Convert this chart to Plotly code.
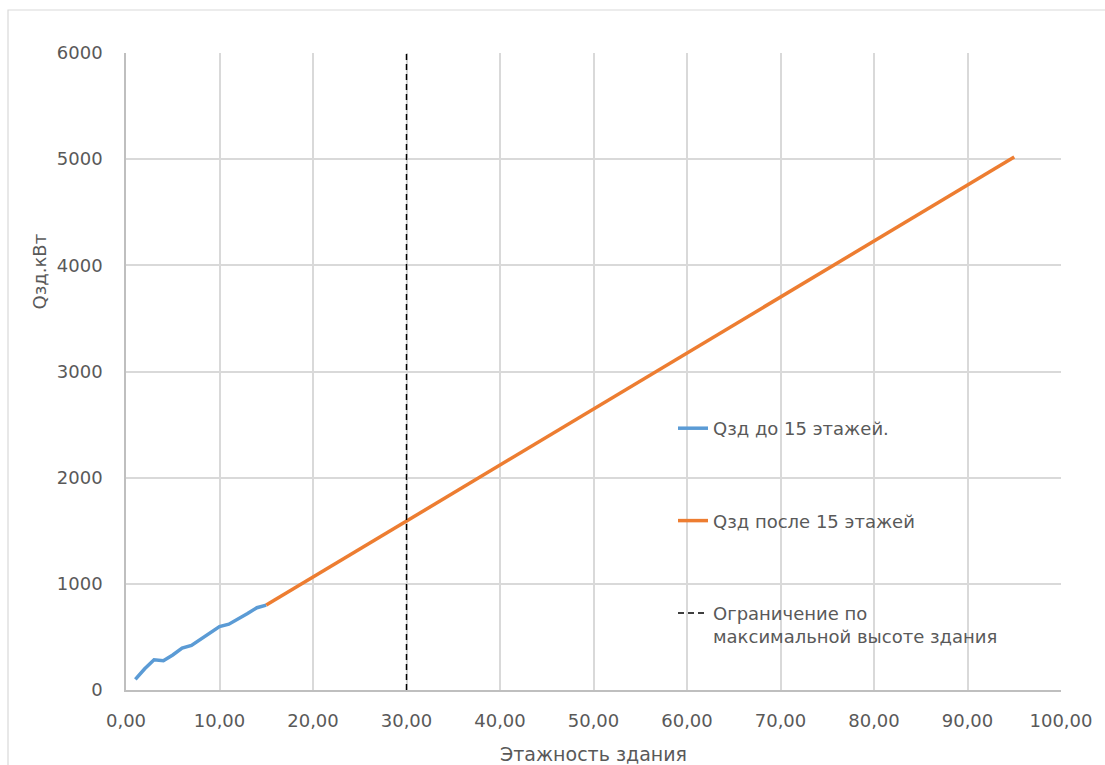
import plotly.graph_objects as go

# Heat load of the building vs. number of storeys
floors_low = [1, 2, 3, 4, 5, 6, 7, 8, 9, 10, 11, 12, 13, 14, 15]
q_low = [100, 200, 285, 275, 330, 395, 420, 480, 540, 598, 620, 668, 720, 775, 800]

floors_high = [15, 95]
q_high = [800, 5020]

limit_floor = [30, 30]
limit_q = [0, 6000]

x_ticks = [0, 10, 20, 30, 40, 50, 60, 70, 80, 90, 100]
y_ticks = [0, 1000, 2000, 3000, 4000, 5000, 6000]

names = [
    "Qзд до 15 этажей.",
    "Qзд после 15 этажей",
    "Ограничение по<br>максимальной высоте здания",
]

FONT = "DejaVu Sans"
GRAY = "#595959"

fig = go.Figure()
fig.add_trace(go.Scatter(x=floors_low, y=q_low, mode="lines", name=names[0],
                         legendgroup="a",
                         line=dict(color="#5B9BD5", width=3.5)))
fig.add_trace(go.Scatter(x=floors_high, y=q_high, mode="lines", name=names[1],
                         legendgroup="b",
                         line=dict(color="#ED7D31", width=3.5)))
fig.add_trace(go.Scatter(x=limit_floor, y=limit_q, mode="lines", name=names[2],
                         legendgroup="c",
                         line=dict(color="black", width=1.5, dash="6px,4px")))

# outer chart frame
fig.add_shape(type="rect", xref="paper", yref="paper",
              x0=(8 - 126) / 935, x1=(1112 - 126) / 935,
              y0=(690 - 775) / 637, y1=(690 - 10) / 637,
              line=dict(color="#d9d9d9", width=1.2), layer="below")

# y-axis title
fig.add_annotation(text="Qзд.кВт", xref="paper", yref="paper",
                   x=(26 - 126) / 935, y=(690 - 272) / 637,
                   textangle=-90, showarrow=False,
                   font=dict(family=FONT, size=18, color=GRAY))

fig.update_layout(
    width=1105, height=765,
    margin=dict(l=126, r=44, t=53, b=75),
    paper_bgcolor="white", plot_bgcolor="white",
    separators=", ",
    font=dict(family=FONT, size=18, color=GRAY),
    legend=dict(x=(673 - 126) / 935, y=(690 - 410) / 637,
                xanchor="left", yanchor="top",
                bgcolor="rgba(0,0,0,0)", tracegroupgap=66,
                valign="top",
                font=dict(family=FONT, size=18, color=GRAY)),
    xaxis=dict(range=[0, 100], tickvals=x_ticks, tickformat=".2f",
               automargin=False,
               showgrid=True, gridcolor="#d9d9d9", gridwidth=1.5,
               showline=True, linecolor="#bfbfbf", linewidth=1.5,
               zeroline=False, ticks="", ticklabelstandoff=14,
               title=dict(text="Этажность здания", standoff=22,
                          font=dict(family=FONT, size=19, color=GRAY))),
    yaxis=dict(range=[0, 6000], tickvals=y_ticks, automargin=False,
               showgrid=True, gridcolor="#d9d9d9", gridwidth=1.5,
               showline=True, linecolor="#bfbfbf", linewidth=1.5,
               zeroline=False, ticks="", ticklabelstandoff=18),
    showlegend=True,
)

fig.write_html("out.html")
